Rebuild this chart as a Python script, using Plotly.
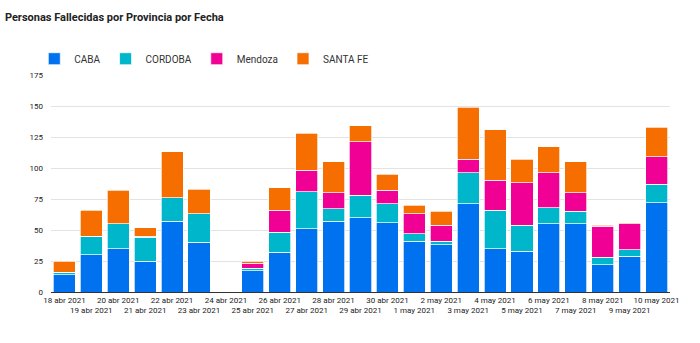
import plotly.graph_objects as go

fechas = ["18 abr 2021", "19 abr 2021", "20 abr 2021", "21 abr 2021", "22 abr 2021",
          "23 abr 2021", "24 abr 2021", "25 abr 2021", "26 abr 2021", "27 abr 2021",
          "28 abr 2021", "29 abr 2021", "30 abr 2021", "1 may 2021", "2 may 2021",
          "3 may 2021", "4 may 2021", "5 may 2021", "6 may 2021", "7 may 2021",
          "8 may 2021", "9 may 2021", "10 may 2021"]

caba    = [14, 30, 35, 25, 57, 40, 0, 17, 32, 51, 57, 60, 56, 41, 38, 71, 35, 33, 55, 55, 22, 29, 72]
cordoba = [2, 15, 20, 19, 19, 23, 0, 2, 16, 30, 10, 18, 15, 6, 3, 25, 31, 21, 13, 10, 6, 5, 15]
mendoza = [0, 0, 0, 1, 0, 0, 0, 4, 18, 17, 13, 43, 11, 16, 13, 11, 24, 34, 28, 15, 25, 21, 22]
santafe = [9, 21, 27, 7, 37, 20, 0, 2, 18, 30, 25, 13, 13, 7, 11, 42, 41, 19, 21, 25, 1, 1, 24]

series = [("CABA", caba, "#0072f0"), ("CORDOBA", cordoba, "#00b6cb"),
          ("Mendoza", mendoza, "#f10096"), ("SANTA FE", santafe, "#f66d00")]

fig = go.Figure()
for name, vals, col in series:
    fig.add_trace(go.Bar(x=fechas, y=vals, name=name, marker_color=col,
                         marker_line=dict(color="white", width=0.7)))

ticktext = [f if i % 2 == 0 else "<br>" + f for i, f in enumerate(fechas)]

fig.update_layout(
    barmode="stack",
    bargap=0.18,
    width=700, height=343,
    margin=dict(l=51, r=30, t=75, b=51),
    paper_bgcolor="white", plot_bgcolor="white",
    font=dict(family="Roboto", size=8, color="#222"),
    title=dict(text="<b>Personas Fallecidas por Provincia por Fecha</b>",
               x=0.007, xanchor="left", y=0.95, yanchor="middle",
               font=dict(family="Roboto", size=11, color="#222")),
    legend=dict(orientation="h", x=-0.027, xanchor="left", y=1.075, yanchor="middle",
                font=dict(size=10, color="#333"), traceorder="normal",
                itemwidth=30),
    showlegend=True,
)
fig.update_xaxes(tickmode="array", tickvals=fechas, ticktext=ticktext, tickangle=0,
                 showline=True, linecolor="#333", linewidth=1, ticks="",
                 tickfont=dict(size=8, color="#222"))
fig.update_yaxes(range=[0, 175], tickvals=[0, 25, 50, 75, 100, 125, 150, 175],
                 showgrid=True, gridcolor="#e3e3e3", gridwidth=1, zeroline=False,
                 tickfont=dict(size=8, color="#222"), ticks="", ticklabelstandoff=7)

fig.write_html("out.html")
